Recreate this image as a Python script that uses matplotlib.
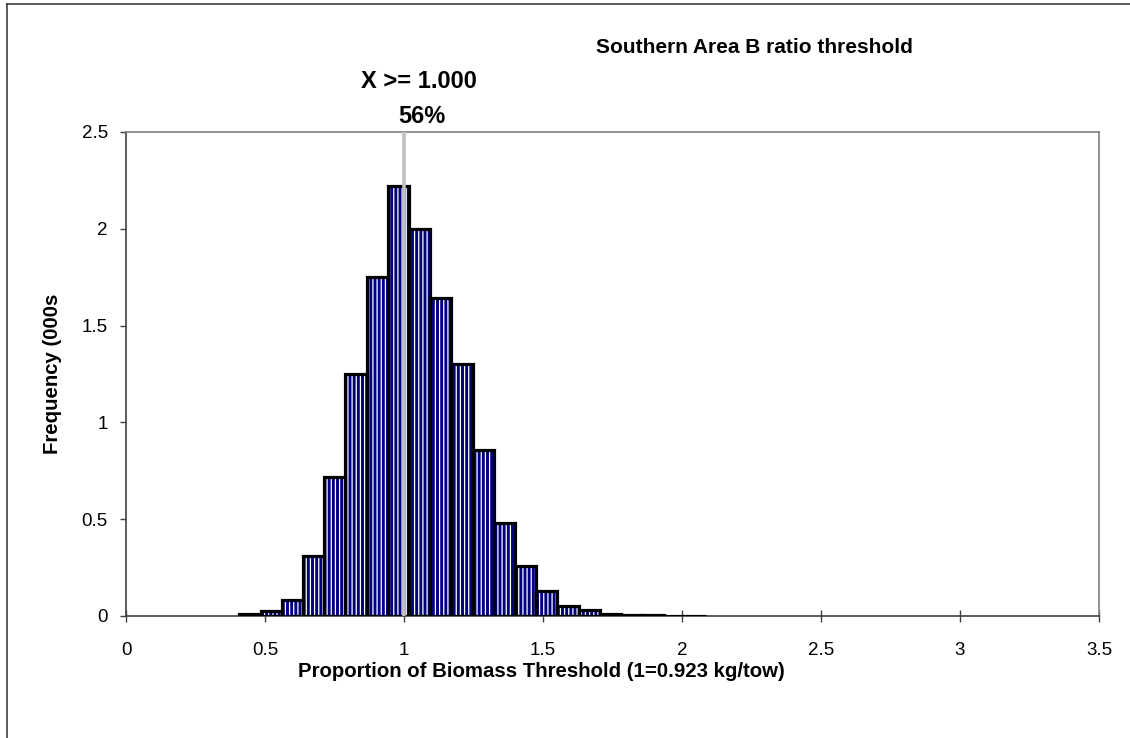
import matplotlib
matplotlib.use("Agg")
import matplotlib.pyplot as plt
from matplotlib.lines import Line2D

plt.rcParams['font.family'] = ['Liberation Sans', 'DejaVu Sans']
plt.rcParams['hatch.linewidth'] = 0.9

# histogram bins (left edges) and frequencies in thousands
bin_start = 0.4076
bin_width = 0.0763
freq = [0.010, 0.025, 0.085, 0.31, 0.72, 1.25, 1.75, 2.22, 2.00, 1.64, 1.30,
        0.86, 0.48, 0.26, 0.13, 0.05, 0.03, 0.012, 0.006, 0.004, 0.002, 0.001]
bin_left = [bin_start + i * bin_width for i in range(len(freq))]

threshold = 1.0
threshold_label = ["X >= 1.000", "56%"]
x_ticks = [0, 0.5, 1, 1.5, 2, 2.5, 3, 3.5]
x_ticklabels = ["0", "0.5", "1", "1.5", "2", "2.5", "3", "3.5"]
y_ticks = [0, 0.5, 1, 1.5, 2, 2.5]
y_ticklabels = ["0", "0.5", "1", "1.5", "2", "2.5"]

W, H = 1130, 738
fig = plt.figure(figsize=(W / 100, H / 100), dpi=100)
ax = fig.add_axes([126 / W, 1 - 616 / H, (1099 - 126) / W, (616 - 132) / H])

# bars: navy with white vertical stripes, then black outline on top
ax.bar(bin_left, freq, width=bin_width, align='edge', color='#000080',
       edgecolor='white', hatch='||||', linewidth=0, zorder=2)
ax.bar(bin_left, freq, width=bin_width, align='edge', fill=False,
       edgecolor='black', linewidth=2.3, zorder=3)

# threshold line
ax.plot([threshold, threshold], [0, 2.5], color='#C0C0C0', lw=2.6, zorder=4,
        solid_capstyle='butt', clip_on=False)

ax.set_xlim(0, 3.5)
ax.set_ylim(0, 2.5)
ax.set_xticks(x_ticks)
ax.set_xticklabels(x_ticklabels)
ax.set_yticks(y_ticks)
ax.set_yticklabels(y_ticklabels)
ax.tick_params(axis='x', direction='inout', length=9, width=1, color='#404040',
               labelsize=13.5, pad=14)
ax.tick_params(axis='y', direction='out', length=4, width=1, color='#404040',
               labelsize=13.5, pad=9)

for s in ['left', 'bottom']:
    ax.spines[s].set_color('#404040')
    ax.spines[s].set_linewidth(1.2)
for s in ['top', 'right']:
    ax.spines[s].set_color('#808080')
    ax.spines[s].set_linewidth(1.2)

ax.set_xlabel("Proportion of Biomass Threshold (1=0.923 kg/tow)",
              fontsize=14.7, fontweight='bold')
ax.xaxis.set_label_coords((541 - 126) / 973, -(662 - 616) / 484)
ax.set_ylabel("Frequency (000s", fontsize=14.7, fontweight='bold')
ax.yaxis.set_label_coords((62 - 126) / 973, 0.5)

ax.text(0.646, 1.174, "Southern Area B ratio threshold", transform=ax.transAxes,
        ha='center', va='center', fontsize=15, fontweight='bold')
ax.text(1.055, 1.105, threshold_label[0], transform=ax.get_xaxis_transform(),
        ha='center', va='center', fontsize=17, fontweight='bold')
ax.text(1.065, 1.033, threshold_label[1], transform=ax.get_xaxis_transform(),
        ha='center', va='center', fontsize=17, fontweight='bold')

# outer chart border (left and top visible)
fig.add_artist(Line2D([7 / W, 7 / W], [0, 1 - 4 / H], color='#404040', lw=1.2,
                      transform=fig.transFigure))
fig.add_artist(Line2D([7 / W, 1], [1 - 4 / H, 1 - 4 / H], color='#404040', lw=1.2,
                      transform=fig.transFigure))

fig.savefig("out.png", dpi=100)
